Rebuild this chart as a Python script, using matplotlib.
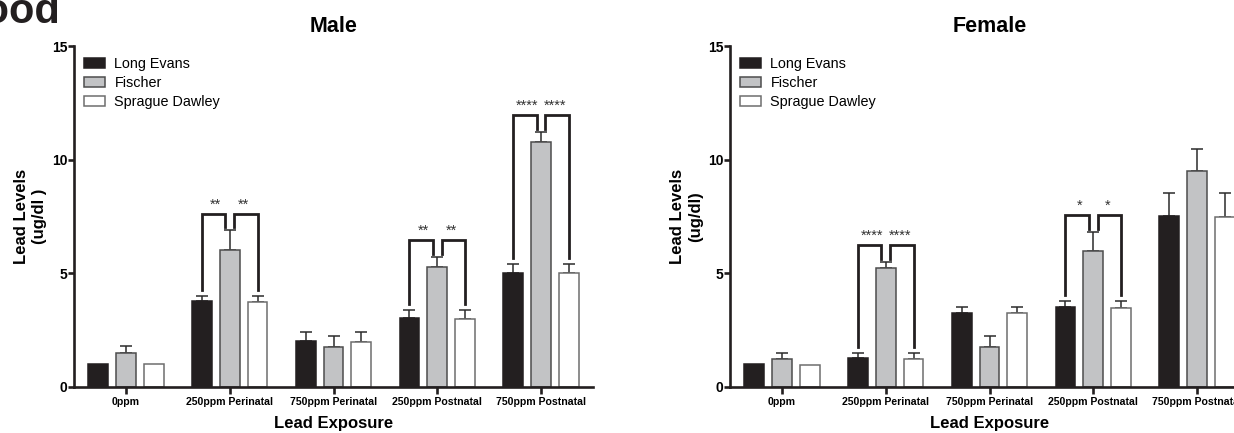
import numpy as np
import matplotlib
matplotlib.use("Agg")
import matplotlib.pyplot as plt
from matplotlib.patches import Patch

plt.rcParams['font.family'] = ['Liberation Sans', 'DejaVu Sans']

categories = ["0ppm", "250ppm Perinatal", "750ppm Perinatal", "250ppm Postnatal", "750ppm Postnatal"]
strains = ["Long Evans", "Fischer", "Sprague Dawley"]

male_le = [1.0, 3.77, 2.02, 3.03, 5.03]
male_le_err = [0.0, 0.23, 0.40, 0.37, 0.38]
male_f = [1.5, 6.01, 1.74, 5.26, 10.76]
male_f_err = [0.29, 0.91, 0.49, 0.47, 0.47]
male_sd = [1.0, 3.74, 1.99, 2.99, 5.0]
male_sd_err = [0.0, 0.26, 0.43, 0.41, 0.41]

female_le = [1.02, 1.27, 3.26, 3.53, 7.53]
female_le_err = [0.0, 0.24, 0.24, 0.26, 1.02]
female_f = [1.24, 5.24, 1.74, 5.99, 9.5]
female_f_err = [0.27, 0.26, 0.49, 0.85, 0.97]
female_sd = [0.98, 1.24, 3.25, 3.48, 7.5]
female_sd_err = [0.0, 0.27, 0.25, 0.31, 1.05]

male_sig_groups = [1, 3, 4]
male_sig_labels = ["**", "**", "****"]
male_sig_tops = [7.62, 6.45, 11.96]
female_sig_groups = [1, 3]
female_sig_labels = ["****", "*"]
female_sig_tops = [6.25, 7.55]

colors = ["#231f20", "#c2c3c5", "#ffffff"]
edges = ["#231f20", "#4d4d4d", "#6e6e6e"]

W, H = 1234, 433
fig = plt.figure(figsize=(W / 100, H / 100), dpi=100)

def px_axes(left, top, right, bottom):
    return fig.add_axes([left / W, 1 - bottom / H, (right - left) / W, (bottom - top) / H])

ax_m = px_axes(74, 46, 593, 387)
ax_f = px_axes(730, 46, 1249, 387)

bw = 0.19
off = 0.268

def draw(ax, title, series, errs, sig_groups, sig_labels, sig_tops, ylabel):
    x = np.arange(len(categories))
    for i, (vals, ers) in enumerate(zip(series, errs)):
        pos = x + (i - 1) * off
        ax.bar(pos, vals, width=bw, color=colors[i], edgecolor=edges[i], linewidth=1.1,
               zorder=2, label=strains[i])
        e = np.array(ers)
        mask = e > 0
        ax.errorbar(pos[mask], np.array(vals)[mask], yerr=[np.zeros(mask.sum()), e[mask]],
                    fmt='none', ecolor='#2b2b2b', elinewidth=1.1, capsize=4.3, capthick=1.1,
                    zorder=1)
    # significance brackets
    for g, lab, top in zip(sig_groups, sig_labels, sig_tops):
        le_top = series[0][g] + errs[0][g] + 0.25
        f_top = series[1][g] + errs[1][g] + 0.13
        sd_top = series[2][g] + errs[2][g] + 0.25
        xl = g - off
        xr = g + off
        gap = 0.042
        ax.plot([xl, xl, g - gap, g - gap], [le_top, top, top, f_top], color='#231f20',
                lw=2.0, solid_joinstyle='miter', zorder=3)
        ax.plot([g + gap, g + gap, xr, xr], [f_top, top, top, sd_top], color='#231f20',
                lw=2.0, solid_joinstyle='miter', zorder=3)
        ax.text((xl + g) / 2, top + 0.1, lab, ha='center', va='bottom', fontsize=10.5,
                color='#333333')
        ax.text((xr + g) / 2, top + 0.1, lab, ha='center', va='bottom', fontsize=10.5,
                color='#333333')

    ax.set_xlim(-0.5, 4.5)
    ax.set_ylim(0, 15)
    ax.set_yticks([0, 5, 10, 15])
    ax.set_xticks(x)
    ax.set_xticklabels(categories, fontsize=7.6, fontweight='bold')
    for t in ax.get_yticklabels():
        t.set_fontsize(10)
        t.set_fontweight('bold')
    ax.spines['top'].set_visible(False)
    ax.spines['right'].set_visible(False)
    for s in ['left', 'bottom']:
        ax.spines[s].set_linewidth(1.9)
        ax.spines[s].set_color('#231f20')
    ax.tick_params(axis='both', length=5, width=1.9, color='#231f20', pad=2)
    ax.tick_params(axis='y', length=4, pad=0.5)
    ax.set_title(title, fontsize=15.5, fontweight='bold', pad=10)
    ax.set_xlabel("Lead Exposure", fontsize=12, fontweight='bold', labelpad=7)
    ax.set_ylabel(ylabel, fontsize=12, fontweight='bold', labelpad=4, linespacing=1.25)
    handles = [Patch(facecolor=colors[i], edgecolor=edges[i], linewidth=1.1) for i in range(3)]
    ax.legend(handles, strains, loc='upper left', bbox_to_anchor=(0.02, 0.968), frameon=False,
              fontsize=10.4, handlelength=1.4, handleheight=0.72, handletextpad=0.68,
              labelspacing=0.36, borderpad=0, borderaxespad=0)

draw(ax_m, "Male", [male_le, male_f, male_sd], [male_le_err, male_f_err, male_sd_err],
     male_sig_groups, male_sig_labels, male_sig_tops, "Lead Levels\n(ug/dl )")
draw(ax_f, "Female", [female_le, female_f, female_sd], [female_le_err, female_f_err, female_sd_err],
     female_sig_groups, female_sig_labels, female_sig_tops, "Lead Levels\n(ug/dl)")

fig.text(60 / W, 1 - 23 / H, "Blood", ha='right', va='baseline', fontsize=30,
         fontweight='bold', color='#231f20')

fig.savefig("out.png", dpi=100)
